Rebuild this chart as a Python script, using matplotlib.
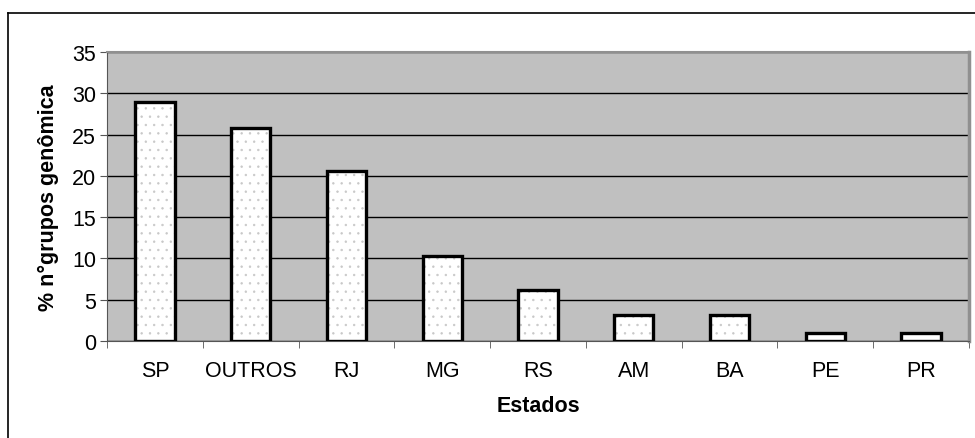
import matplotlib.pyplot as plt
from matplotlib.lines import Line2D
import numpy as np

plt.rcParams['font.family'] = ['Liberation Sans', 'DejaVu Sans']
plt.rcParams['hatch.linewidth'] = 0.5

# data: % of genomic groups per state
estados = ['SP', 'OUTROS', 'RJ', 'MG', 'RS', 'AM', 'BA', 'PE', 'PR']
percentual = [28.9, 25.8, 20.6, 10.3, 6.2, 3.1, 3.1, 1.0, 1.0]
y_ticks = [0, 5, 10, 15, 20, 25, 30, 35]

fig = plt.figure(figsize=(9.75, 4.39), dpi=100)
ax = fig.add_axes([107 / 975, 97 / 439, 862 / 975, 289 / 439])
ax.set_facecolor('#c0c0c0')

x = np.arange(len(estados))
# dotted fill first, then black outline on top
ax.bar(x, percentual, width=0.41, color='white', edgecolor='#c8c8c8',
       hatch='..', linewidth=0, zorder=3)
ax.bar(x, percentual, width=0.41, fill=False, edgecolor='black',
       linewidth=2.4, zorder=4)

ax.set_xlim(-0.5, len(estados) - 0.5)
ax.set_ylim(0, 35)
ax.set_yticks(y_ticks)
ax.set_yticklabels([str(t) for t in y_ticks], fontsize=15.5)
ax.set_xticks(x)
ax.set_xticklabels(estados, fontsize=15.5)
ax.tick_params(axis='x', length=0, pad=14)
ax.set_xticks(np.arange(len(estados) + 1) - 0.5, minor=True)
ax.tick_params(axis='x', which='minor', length=5, color='#555555')
ax.tick_params(axis='y', length=5, color='#555555', pad=3)

ax.grid(axis='y', color='black', linewidth=1, zorder=1)
ax.set_axisbelow(True)

ax.spines['left'].set_color('#555555')
ax.spines['bottom'].set_color('#555555')
ax.spines['top'].set_color('#909090')
ax.spines['right'].set_color('#909090')
ax.spines['top'].set_linewidth(1.5)
ax.spines['right'].set_linewidth(2.5)

ax.set_xlabel('Estados', fontsize=15.5, fontweight='bold', labelpad=10)
ax.set_ylabel('% n°grupos genômica', fontsize=15.5, fontweight='bold', labelpad=9)

# outer chart border (only left and top visible)
fig.add_artist(Line2D([8 / 975, 8 / 975], [0, 1 - 14 / 439], color='black', linewidth=1.2))
fig.add_artist(Line2D([8 / 975, 1], [1 - 14 / 439, 1 - 14 / 439], color='black', linewidth=1.2))

fig.savefig('out.png', dpi=100)
